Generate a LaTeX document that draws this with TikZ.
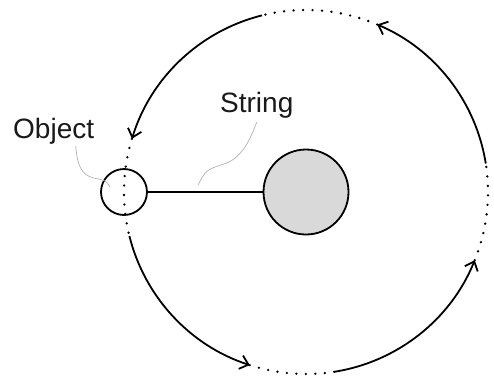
\documentclass[tikz,border=0pt]{standalone}
\usepackage{fontspec}
\setmainfont{Liberation Sans}
\usetikzlibrary{arrows.meta,calc}
\begin{document}
\begin{tikzpicture}[x=1pt,y=1pt,
  orbit/.style={line width=1.8pt,-{Straight Barb[length=8pt,width=14pt,line width=1.8pt]}},
  gap/.style={line width=2.6pt,line cap=round,dash pattern=on 0pt off 9.5pt},
  leader/.style={gray!60,line width=0.7pt},
  lbl/.style={font=\fontsize{28}{30}\selectfont,inner sep=0pt,text=black!90}]
\useasboundingbox (0,0) rectangle (494,376);
\coordinate (C) at (306,184);
\def\R{182}
% solid arcs of the path, each ending in an arrow
\foreach \a/\b in {9/67, 104/163, 194/252, 279/338} {
  \draw[orbit] ($(C)+(\a:\R)$) arc[start angle=\a,end angle=\b,radius=\R];
}
% dotted stretches of the path
\foreach \a/\b in {67/104, 163/194, 252/279, 338/369} {
  \draw[gap] ($(C)+(\a:\R)$) arc[start angle=\a,end angle=\b,radius=\R];
}
% central mass and the object on its string
\node[draw,circle,line width=1.8pt,fill=gray!30,minimum size=85pt,inner sep=0pt] (ball) at (C) {};
\node[draw,circle,line width=1.8pt,minimum size=46pt,inner sep=0pt] (obj) at (124,184) {};
\draw[line width=1.8pt] (obj.east) -- (ball.west);
% labels with their leader lines
\node[lbl,anchor=base west] (objlbl) at (13,238) {Object};
\node[lbl,anchor=base west] (strlbl) at (220,264) {String};
\coordinate (objtip) at (110,189);
\coordinate (strtip) at (198,191);
\draw[leader] (objlbl.south) ++(22,-2) .. controls (78,205) and (84,199) .. (99,197) .. controls (106,195) .. (objtip);
\draw[leader] (strlbl.south) ++(0,-4) .. controls (250,236) and (242,218) .. (224,212) .. controls (206,206) .. (strtip);
\end{tikzpicture}
\end{document}
